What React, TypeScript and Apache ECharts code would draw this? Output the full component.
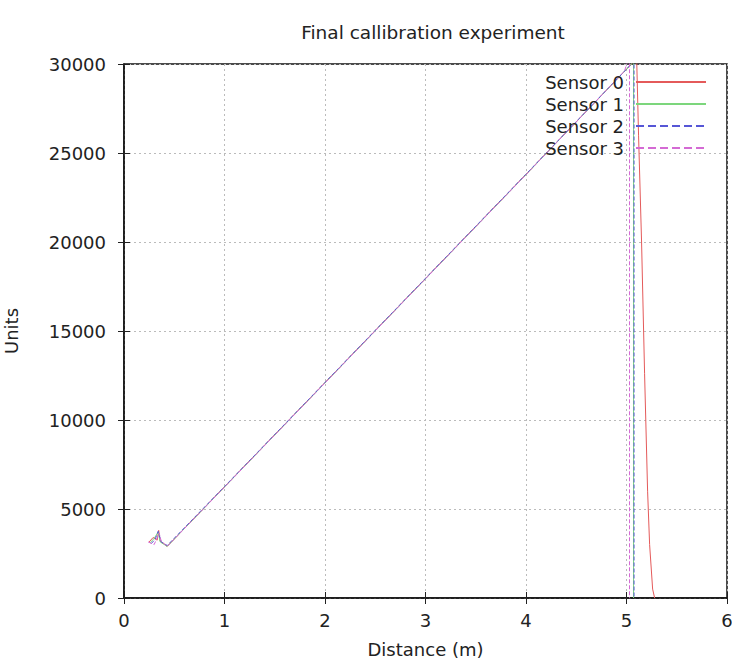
import React, { useEffect, useRef } from "react";
import * as echarts from "echarts";

const TITLE = "Final callibration experiment";
const X_NAME = "Distance (m)";
const Y_NAME = "Units";
const SENSOR_NAMES = ["Sensor 0", "Sensor 1", "Sensor 2", "Sensor 3"];
const SENSOR_COLORS = ["#e45a5a", "#7cd67c", "#5656d6", "#d46ad4"];
const SENSOR_DASH = ["solid", "solid", "dashed", "dashed"];

const X_MIN = 0, X_MAX = 6, X_STEP = 1;
const Y_MIN = 0, Y_MAX = 30000, Y_STEP = 5000;

const sensor0: number[][] = [
  [0.25, 3150], [0.29, 3400], [0.33, 3250], [0.345, 3800], [0.36, 3200], [0.43, 2900],
  [1, 6250], [2, 12100], [3, 17950], [4, 23800], [5.05, 30000], [5.1, 30600],
  [5.12, 26000], [5.15, 20000], [5.18, 12600], [5.21, 6000], [5.23, 3000], [5.26, 500], [5.28, 0],
];
const sensor1: number[][] = [
  [0.26, 3100], [0.3, 3350], [0.34, 3700], [0.36, 3150], [0.43, 2900],
  [1, 6240], [2, 12090], [3, 17940], [4, 23790], [5.05, 30000], [5.07, 30500],
  [5.07, 0],
];
const sensor2: number[][] = [
  [0.27, 3050], [0.31, 3300], [0.34, 3750], [0.37, 3150], [0.43, 2950],
  [1, 6260], [2, 12110], [3, 17960], [4, 23810], [5.04, 29950], [5.075, 30500],
  [5.075, 0],
];
const sensor3: number[][] = [
  [0.24, 3150], [0.3, 3000], [0.35, 3650], [0.37, 3200], [0.43, 2900],
  [1, 6230], [2, 12080], [3, 17930], [4, 23780], [4.98, 29600], [5.03, 30500],
  [5.03, 0],
];
const SENSOR_DATA = [sensor0, sensor1, sensor2, sensor3];

const FONT = "DejaVu Sans, Liberation Sans, sans-serif";
const TEXT_COLOR = "#222";
const FS = 18;

export default function App() {
  const ref = useRef<HTMLDivElement>(null);
  useEffect(() => {
    if (!ref.current) return;
    const chart = echarts.init(ref.current, undefined, { renderer: "svg" });
    const mirrorAxis = {
      axisLine: { show: false },
      axisTick: { show: true, inside: true, length: 6, lineStyle: { color: "#222", width: 1 } },
      axisLabel: { show: false },
      splitLine: { show: false },
    };
    chart.setOption({
      animation: false,
      backgroundColor: "#fff",
      title: {
        text: TITLE,
        left: 428,
        top: 18,
        textAlign: "center",
        textStyle: { fontFamily: FONT, fontSize: 18.5, fontWeight: "normal", color: TEXT_COLOR },
      },
      legend: {
        data: SENSOR_NAMES,
        orient: "vertical",
        right: 20,
        top: 68,
        align: "right",
        itemWidth: 70,
        itemHeight: 14,
        itemGap: 4,
        selectedMode: false,
        itemStyle: { opacity: 0 },
        textStyle: { fontFamily: FONT, fontSize: FS, color: TEXT_COLOR, padding: [0, 7, 0, 0] },
      },
      grid: {
        left: 124,
        right: 5,
        top: 64,
        bottom: 60,
        outerBoundsMode: "none",
        containLabel: false,
        show: true,
        borderColor: "#111",
        borderWidth: 1.5,
      },
      xAxis: [
        {
          type: "value",
          min: X_MIN,
          max: X_MAX,
          interval: X_STEP,
          name: X_NAME,
          nameLocation: "middle",
          nameGap: 42,
          nameTextStyle: { fontFamily: FONT, fontSize: FS, color: TEXT_COLOR },
          axisLine: { show: true, onZero: false, lineStyle: { color: "#111", width: 1.5 } },
          axisTick: { show: true, inside: true, length: 6, lineStyle: { color: "#222", width: 1 } },
          axisLabel: { fontFamily: FONT, fontSize: FS, color: TEXT_COLOR, margin: 13 },
          splitLine: { show: true, lineStyle: { color: "#bbbbbb", type: [2, 3], width: 1 } },
        },
        { type: "value", position: "top", min: X_MIN, max: X_MAX, interval: X_STEP, ...mirrorAxis },
      ],
      yAxis: [
        {
          type: "value",
          min: Y_MIN,
          max: Y_MAX,
          interval: Y_STEP,
          name: Y_NAME,
          nameLocation: "middle",
          nameGap: 104,
          nameTextStyle: { fontFamily: FONT, fontSize: FS, color: TEXT_COLOR },
          axisLine: { show: true, onZero: false, lineStyle: { color: "#111", width: 1.5 } },
          axisTick: { show: true, inside: true, length: 6, lineStyle: { color: "#222", width: 1 } },
          axisLabel: {
            fontFamily: FONT,
            fontSize: FS,
            color: TEXT_COLOR,
            margin: 18,
            formatter: (v: number) => String(v),
          },
          splitLine: { show: true, lineStyle: { color: "#bbbbbb", type: [2, 3], width: 1 } },
        },
        { type: "value", position: "right", min: Y_MIN, max: Y_MAX, interval: Y_STEP, ...mirrorAxis },
      ],
      series: SENSOR_NAMES.map((name, i) => ({
        name,
        type: "line",
        xAxisIndex: 0,
        yAxisIndex: 0,
        data: SENSOR_DATA[i],
        symbol: "none",
        clip: true,
        color: SENSOR_COLORS[i],
        lineStyle: { color: SENSOR_COLORS[i], width: 1, type: SENSOR_DASH[i] },
      })),
    });
    return () => chart.dispose();
  }, []);
  return <div ref={ref} style={{ width: 732, height: 658, position: "absolute", left: 0, top: 0 }} />;
}
